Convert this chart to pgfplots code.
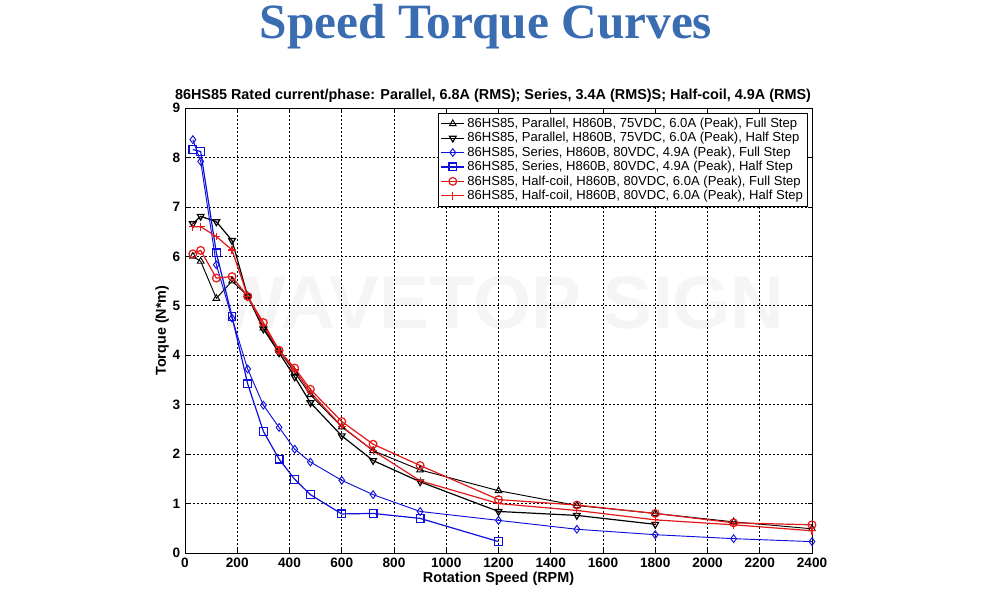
\documentclass[border=0pt]{standalone}
\usepackage{fontspec}
\setmainfont{Liberation Sans}
\newfontfamily\titlefont{Liberation Serif}
\usepackage{pgfplots}
\pgfplotsset{compat=1.18}
\definecolor{titleblue}{RGB}{58,108,178}
\definecolor{mred}{RGB}{225,25,25}
\definecolor{mblue}{RGB}{15,15,220}

\begin{document}
\begin{tikzpicture}[x=0.75pt,y=0.75pt]
\useasboundingbox (0,0) rectangle (1000,603);
\node[font=\titlefont\bfseries\fontsize{37}{42}\selectfont, text=titleblue, anchor=base, inner sep=0pt] at (486,564) {Speed Torque Curves};
\node[font=\bfseries\fontsize{10.8}{12}\selectfont, anchor=base, inner sep=0pt] at (493,503) {86HS85 Rated current/phase: Parallel, 6.8A (RMS); Series, 3.4A (RMS)S; Half-coil, 4.9A (RMS)};
\node[font=\bfseries\fontsize{56}{62}\selectfont, text=black!4] at (500,300) {WAVETOP SIGN};
\begin{axis}[
  at={(138.75pt,37.5pt)}, anchor=south west,
  scale only axis, width=470.25pt, height=333.75pt,
  xmin=0, xmax=2400, ymin=0, ymax=9,
  xtick={0,200,...,2400}, ytick={0,1,...,9},
  grid=major,
  major grid style={black, dash pattern=on 1.2pt off 1.8pt, line width=0.45pt},
  tick align=inside, major tick length=3pt,
  tick style={black, line width=0.5pt},
  axis line style={black, line width=0.6pt},
  /pgf/number format/assume math mode=true,
  /pgf/number format/1000 sep={},
  ticklabel style={font=\bfseries\fontsize{10.2}{11}\selectfont},
  xtick style={}, 
  xlabel={Rotation Speed (RPM)},
  ylabel={Torque (N*m)},
  xlabel style={font=\bfseries\fontsize{10.8}{12}\selectfont, yshift=3pt},
  ylabel style={font=\bfseries\fontsize{10.8}{12}\selectfont, yshift=-4pt},
  legend style={at={(0.9936,0.9888)}, anchor=north east,
    font=\fontsize{9.8}{10.5}\selectfont, draw=black, line width=0.5pt,
    row sep=-1.8pt, inner sep=1.5pt, cells={anchor=west}},
  every axis plot/.append style={line width=0.7pt, mark size=2.9pt},
]
\addplot[black, mark=triangle, mark options={solid, fill=none}] coordinates {
(30,6.0)(60,5.9)(120,5.15)(180,5.5)(240,5.2)(300,4.55)(360,4.1)(420,3.65)(480,3.2)(600,2.55)(720,2.07)(900,1.68)(1200,1.26)(1500,0.96)(1800,0.8)(2100,0.63)(2400,0.49)};
\addlegendentry{86HS85, Parallel, H860B, 75VDC, 6.0A (Peak), Full Step}
\addplot[black, line width=0.9pt, mark=triangle, mark options={rotate=180, solid, fill=none}] coordinates {
(30,6.66)(60,6.81)(120,6.7)(180,6.32)(240,5.19)(300,4.53)(360,4.05)(420,3.56)(480,3.04)(600,2.37)(720,1.87)(900,1.44)(1200,0.84)(1500,0.76)(1800,0.58)};
\addlegendentry{86HS85, Parallel, H860B, 75VDC, 6.0A (Peak), Half Step}
\addplot[mblue, mark=diamond, mark options={fill=none}] coordinates {
(30,8.36)(60,7.92)(120,5.83)(180,4.75)(240,3.72)(300,2.99)(360,2.54)(420,2.1)(480,1.84)(600,1.47)(720,1.18)(900,0.84)(1200,0.66)(1500,0.48)(1800,0.37)(2100,0.29)(2400,0.23)};
\addlegendentry{86HS85, Series, H860B, 80VDC, 4.9A (Peak), Full Step}
\addplot[mblue, line width=0.9pt, mark=square, mark options={fill=none}] coordinates {
(30,8.16)(60,8.12)(120,6.07)(180,4.78)(240,3.42)(300,2.46)(360,1.9)(420,1.49)(480,1.18)(600,0.79)(720,0.8)(900,0.7)(1200,0.23)};
\addlegendentry{86HS85, Series, H860B, 80VDC, 4.9A (Peak), Half Step}
\addplot[mred, line width=0.9pt, mark=o, mark options={fill=none}] coordinates {
(30,6.05)(60,6.12)(120,5.56)(180,5.59)(240,5.19)(300,4.66)(360,4.1)(420,3.74)(480,3.31)(600,2.66)(720,2.2)(900,1.77)(1200,1.08)(1500,0.97)(1800,0.8)(2100,0.61)(2400,0.57)};
\addlegendentry{86HS85, Half-coil, H860B, 80VDC, 6.0A (Peak), Full Step}
\addplot[mred, line width=0.9pt, mark=+] coordinates {
(30,6.6)(60,6.6)(120,6.4)(180,6.13)(240,5.19)(300,4.6)(360,4.1)(420,3.7)(480,3.25)(600,2.56)(720,2.07)(900,1.46)(1200,1.0)(1500,0.86)(1800,0.67)(2100,0.57)(2400,0.45)};
\addlegendentry{86HS85, Half-coil, H860B, 80VDC, 6.0A (Peak), Half Step}
\end{axis}
\end{tikzpicture}
\end{document}
